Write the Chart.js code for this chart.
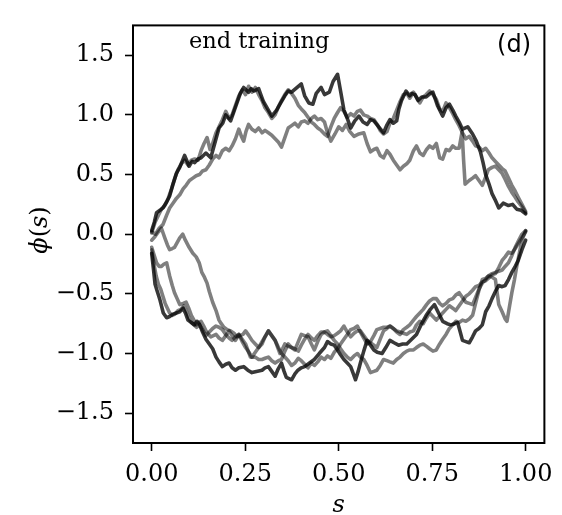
<!DOCTYPE html>
<html>
<head>
<meta charset="utf-8">
<script src="https://cdn.jsdelivr.net/npm/chart.js@4.4.1/dist/chart.umd.min.js"></script>
<style>
  html, body { margin: 0; padding: 0; background: #fff; }
  canvas { display: block; }
</style>
</head>
<body>
<canvas id="graph" width="562" height="515"></canvas>
<script>
// tick positions
var sTicks = [0, 0.25, 0.5, 0.75, 1.0];
var phiTicks = [-1.5, -1.0, -0.5, 0, 0.5, 1.0, 1.5];

// paths, [s, phi(s)]
var upper1 = [[0,0.03],[0.007,0.10],[0.013,0.18],[0.022,0.20],[0.03,0.22],[0.04,0.27],[0.048,0.32],[0.057,0.42],[0.066,0.51],[0.075,0.56],[0.088,0.66],[0.10,0.57],[0.108,0.61],[0.115,0.60],[0.124,0.63],[0.132,0.64],[0.145,0.68],[0.158,0.64],[0.165,0.72],[0.172,0.80],[0.18,0.89],[0.19,0.93],[0.198,1.0],[0.211,0.95],[0.22,1.03],[0.228,1.10],[0.237,1.18],[0.246,1.23],[0.259,1.19],[0.266,1.22],[0.273,1.20],[0.286,1.22],[0.293,1.16],[0.299,1.11],[0.31,1.05],[0.321,0.99],[0.334,1.04],[0.345,1.10],[0.356,1.16],[0.365,1.20],[0.374,1.19],[0.385,1.22],[0.40,1.26],[0.409,1.16],[0.42,1.10],[0.431,1.09],[0.44,1.18],[0.453,1.23],[0.462,1.17],[0.475,1.19],[0.485,1.28],[0.497,1.34],[0.505,1.20],[0.514,1.04],[0.523,0.97],[0.532,0.89],[0.543,0.95],[0.554,0.99],[0.565,0.94],[0.576,0.92],[0.585,0.96],[0.594,0.95],[0.607,0.90],[0.62,0.85],[0.628,0.91],[0.637,0.96],[0.646,0.93],[0.655,0.95],[0.661,1.05],[0.668,1.12],[0.68,1.20],[0.69,1.16],[0.695,1.18],[0.704,1.17],[0.712,1.12],[0.722,1.15],[0.734,1.15],[0.745,1.18],[0.752,1.19],[0.764,1.08],[0.778,0.99],[0.787,1.06],[0.796,1.09],[0.805,1.04],[0.813,0.99],[0.822,0.94],[0.831,0.88],[0.845,0.90],[0.858,0.84],[0.868,0.78],[0.879,0.69],[0.886,0.60],[0.893,0.50],[0.902,0.42],[0.91,0.34],[0.918,0.29],[0.928,0.22],[0.94,0.26],[0.954,0.24],[0.965,0.25],[0.976,0.21],[0.988,0.20],[1.0,0.17]];

var upper2 = [[0,0.01],[0.009,0.10],[0.018,0.16],[0.026,0.21],[0.035,0.24],[0.044,0.30],[0.053,0.38],[0.062,0.47],[0.07,0.54],[0.079,0.59],[0.088,0.62],[0.097,0.58],[0.106,0.62],[0.115,0.63],[0.124,0.62],[0.132,0.70],[0.14,0.76],[0.148,0.81],[0.156,0.71],[0.163,0.76],[0.172,0.85],[0.18,0.90],[0.189,0.96],[0.198,1.03],[0.207,0.97],[0.215,1.00],[0.224,1.08],[0.233,1.16],[0.242,1.21],[0.251,1.17],[0.259,1.24],[0.268,1.19],[0.277,1.23],[0.286,1.17],[0.295,1.12],[0.303,1.06],[0.312,1.02],[0.321,0.97],[0.33,1.00],[0.339,1.07],[0.347,1.12],[0.356,1.17],[0.365,1.21],[0.374,1.18],[0.383,1.14],[0.392,1.08],[0.40,1.05],[0.409,1.02],[0.418,0.98],[0.427,0.94],[0.435,0.92],[0.444,0.89],[0.453,0.87],[0.462,0.84],[0.47,0.82],[0.479,0.90],[0.488,0.97],[0.497,1.02],[0.505,1.06],[0.514,1.03],[0.523,0.98],[0.532,1.01],[0.541,0.99],[0.55,1.03],[0.558,1.04],[0.567,1.00],[0.576,0.99],[0.585,0.97],[0.594,0.96],[0.603,0.92],[0.611,0.87],[0.62,0.84],[0.629,0.86],[0.637,0.93],[0.646,0.97],[0.655,1.04],[0.664,1.11],[0.673,1.17],[0.682,1.18],[0.69,1.14],[0.70,1.19],[0.708,1.15],[0.717,1.10],[0.726,1.15],[0.734,1.17],[0.743,1.20],[0.752,1.17],[0.761,1.13],[0.77,1.05],[0.778,1.03],[0.787,1.10],[0.796,1.06],[0.805,1.01],[0.813,0.96],[0.822,0.91],[0.831,0.85],[0.84,0.80],[0.849,0.82],[0.858,0.78],[0.866,0.74],[0.875,0.73],[0.884,0.70],[0.893,0.72],[0.902,0.68],[0.91,0.64],[0.919,0.61],[0.928,0.58],[0.937,0.55],[0.945,0.53],[0.954,0.47],[0.963,0.41],[0.972,0.36],[0.98,0.31],[0.99,0.25],[1.0,0.19]];

var upper3 = [[0,0.02],[0.01,0.0],[0.02,0.05],[0.03,0.08],[0.04,0.16],[0.048,0.22],[0.057,0.26],[0.066,0.30],[0.075,0.33],[0.084,0.38],[0.092,0.41],[0.101,0.45],[0.11,0.47],[0.119,0.49],[0.128,0.50],[0.136,0.53],[0.145,0.54],[0.154,0.58],[0.163,0.63],[0.172,0.66],[0.18,0.64],[0.189,0.70],[0.198,0.72],[0.207,0.70],[0.215,0.74],[0.224,0.80],[0.233,0.88],[0.24,0.82],[0.246,0.78],[0.252,0.86],[0.259,0.92],[0.268,0.88],[0.277,0.86],[0.286,0.89],[0.295,0.85],[0.303,0.87],[0.312,0.85],[0.321,0.83],[0.33,0.80],[0.339,0.77],[0.347,0.73],[0.356,0.81],[0.365,0.89],[0.374,0.91],[0.383,0.93],[0.392,0.90],[0.40,0.94],[0.409,0.95],[0.418,0.93],[0.427,0.97],[0.435,0.99],[0.444,0.96],[0.453,0.97],[0.462,0.94],[0.47,0.85],[0.479,0.78],[0.49,0.84],[0.50,0.90],[0.51,0.87],[0.52,0.92],[0.53,0.86],[0.541,0.82],[0.554,0.84],[0.567,0.85],[0.576,0.76],[0.585,0.69],[0.594,0.71],[0.602,0.72],[0.611,0.66],[0.62,0.64],[0.629,0.70],[0.637,0.67],[0.646,0.62],[0.655,0.58],[0.664,0.54],[0.673,0.57],[0.682,0.59],[0.69,0.62],[0.70,0.70],[0.708,0.74],[0.717,0.68],[0.726,0.66],[0.735,0.71],[0.743,0.74],[0.752,0.72],[0.761,0.76],[0.77,0.64],[0.778,0.63],[0.787,0.71],[0.796,0.70],[0.805,0.74],[0.813,0.72],[0.822,0.72],[0.83,0.86],[0.834,0.62],[0.838,0.42],[0.849,0.45],[0.858,0.47],[0.866,0.49],[0.875,0.45],[0.884,0.41],[0.893,0.48],[0.90,0.54],[0.91,0.56],[0.919,0.57],[0.928,0.54],[0.937,0.51],[0.945,0.46],[0.954,0.40],[0.963,0.35],[0.972,0.31],[0.98,0.27],[0.99,0.23],[1.0,0.18]];

var lower1 = [[0,-0.16],[0.005,-0.30],[0.009,-0.42],[0.015,-0.48],[0.022,-0.55],[0.031,-0.66],[0.04,-0.70],[0.048,-0.69],[0.057,-0.67],[0.066,-0.66],[0.075,-0.65],[0.084,-0.62],[0.09,-0.66],[0.097,-0.72],[0.106,-0.74],[0.114,-0.76],[0.121,-0.73],[0.127,-0.75],[0.136,-0.82],[0.145,-0.88],[0.154,-0.92],[0.163,-0.96],[0.172,-1.03],[0.18,-1.07],[0.189,-1.11],[0.198,-1.09],[0.207,-1.08],[0.215,-1.12],[0.224,-1.14],[0.233,-1.12],[0.246,-1.11],[0.257,-1.14],[0.268,-1.16],[0.28,-1.15],[0.295,-1.14],[0.303,-1.12],[0.312,-1.11],[0.321,-1.15],[0.33,-1.19],[0.338,-1.13],[0.347,-1.08],[0.354,-1.15],[0.36,-1.20],[0.374,-1.22],[0.383,-1.17],[0.391,-1.14],[0.40,-1.12],[0.409,-1.11],[0.422,-1.08],[0.435,-1.05],[0.448,-1.00],[0.462,-0.95],[0.47,-0.90],[0.479,-0.92],[0.488,-0.93],[0.497,-0.97],[0.505,-1.01],[0.514,-1.05],[0.523,-1.08],[0.532,-1.11],[0.538,-1.16],[0.545,-1.22],[0.552,-1.15],[0.558,-1.08],[0.567,-0.98],[0.576,-0.89],[0.585,-0.93],[0.594,-0.97],[0.603,-0.99],[0.616,-1.00],[0.626,-0.95],[0.637,-0.89],[0.648,-0.91],[0.66,-0.93],[0.671,-0.92],[0.682,-0.92],[0.695,-0.88],[0.708,-0.84],[0.72,-0.76],[0.734,-0.68],[0.745,-0.63],[0.756,-0.59],[0.767,-0.66],[0.778,-0.73],[0.79,-0.75],[0.80,-0.76],[0.81,-0.75],[0.818,-0.74],[0.825,-0.82],[0.831,-0.89],[0.84,-0.90],[0.849,-0.91],[0.858,-0.86],[0.866,-0.81],[0.875,-0.79],[0.884,-0.76],[0.889,-0.70],[0.893,-0.65],[0.902,-0.60],[0.91,-0.54],[0.919,-0.48],[0.928,-0.43],[0.937,-0.44],[0.945,-0.43],[0.954,-0.38],[0.963,-0.32],[0.972,-0.27],[0.98,-0.22],[0.99,-0.13],[1.0,-0.05]];

var lower2 = [[0,-0.11],[0.006,-0.17],[0.013,-0.24],[0.02,-0.27],[0.026,-0.27],[0.033,-0.25],[0.04,-0.24],[0.048,-0.35],[0.055,-0.43],[0.061,-0.49],[0.068,-0.54],[0.075,-0.59],[0.084,-0.58],[0.092,-0.57],[0.099,-0.62],[0.106,-0.68],[0.113,-0.72],[0.119,-0.76],[0.126,-0.74],[0.132,-0.73],[0.139,-0.77],[0.145,-0.81],[0.152,-0.84],[0.158,-0.86],[0.165,-0.85],[0.172,-0.84],[0.18,-0.87],[0.189,-0.89],[0.198,-0.85],[0.207,-0.81],[0.215,-0.85],[0.224,-0.89],[0.233,-0.84],[0.242,-0.88],[0.251,-0.92],[0.258,-0.98],[0.264,-1.03],[0.277,-1.03],[0.286,-1.05],[0.295,-1.05],[0.303,-1.04],[0.312,-1.03],[0.321,-1.06],[0.33,-1.08],[0.339,-1.06],[0.347,-1.05],[0.356,-0.98],[0.365,-0.92],[0.374,-0.95],[0.383,-0.97],[0.392,-0.90],[0.40,-0.84],[0.409,-0.85],[0.418,-0.86],[0.427,-0.92],[0.435,-0.97],[0.444,-0.90],[0.453,-0.84],[0.462,-0.82],[0.47,-0.81],[0.479,-0.85],[0.488,-0.89],[0.497,-0.92],[0.505,-0.96],[0.514,-1.00],[0.523,-1.03],[0.532,-1.05],[0.541,-1.02],[0.55,-1.00],[0.558,-1.03],[0.567,-1.05],[0.576,-1.10],[0.585,-1.16],[0.594,-1.15],[0.602,-1.14],[0.611,-1.10],[0.62,-1.05],[0.629,-1.06],[0.637,-1.07],[0.646,-1.08],[0.655,-1.05],[0.664,-1.03],[0.673,-1.00],[0.682,-0.98],[0.69,-0.97],[0.70,-0.97],[0.708,-0.95],[0.717,-0.93],[0.726,-0.92],[0.735,-0.94],[0.743,-0.96],[0.752,-0.98],[0.761,-0.97],[0.77,-0.92],[0.778,-0.88],[0.787,-0.84],[0.796,-0.79],[0.805,-0.76],[0.813,-0.73],[0.822,-0.74],[0.831,-0.72],[0.84,-0.73],[0.849,-0.71],[0.858,-0.68],[0.866,-0.58],[0.875,-0.47],[0.884,-0.38],[0.893,-0.37],[0.90,-0.35],[0.91,-0.36],[0.919,-0.38],[0.924,-0.50],[0.928,-0.59],[0.937,-0.65],[0.945,-0.71],[0.95,-0.73],[0.957,-0.60],[0.963,-0.49],[0.97,-0.38],[0.976,-0.27],[0.983,-0.16],[0.99,-0.05],[1.0,0.03]];

var lower3 = [[0,-0.05],[0.009,-0.02],[0.018,0.02],[0.026,0.05],[0.035,-0.03],[0.042,-0.09],[0.048,-0.13],[0.055,-0.12],[0.061,-0.11],[0.068,-0.07],[0.075,-0.03],[0.083,0.0],[0.09,-0.05],[0.10,-0.11],[0.11,-0.16],[0.119,-0.19],[0.127,-0.24],[0.134,-0.32],[0.141,-0.36],[0.148,-0.41],[0.154,-0.48],[0.163,-0.57],[0.172,-0.64],[0.18,-0.72],[0.186,-0.75],[0.193,-0.78],[0.202,-0.80],[0.211,-0.81],[0.22,-0.83],[0.228,-0.86],[0.235,-0.85],[0.244,-0.84],[0.251,-0.81],[0.26,-0.85],[0.268,-0.89],[0.277,-0.92],[0.286,-0.95],[0.295,-0.90],[0.303,-0.86],[0.312,-0.81],[0.321,-0.85],[0.33,-0.89],[0.339,-0.95],[0.347,-1.00],[0.356,-1.03],[0.365,-1.06],[0.374,-1.10],[0.383,-1.08],[0.392,-1.04],[0.40,-1.06],[0.409,-1.09],[0.418,-1.12],[0.427,-1.08],[0.435,-1.10],[0.444,-1.07],[0.453,-1.03],[0.462,-1.05],[0.47,-1.02],[0.479,-1.04],[0.488,-0.99],[0.497,-0.96],[0.505,-0.92],[0.514,-0.88],[0.523,-0.84],[0.532,-0.80],[0.541,-0.79],[0.55,-0.77],[0.558,-0.82],[0.567,-0.87],[0.576,-0.92],[0.585,-0.90],[0.594,-0.85],[0.602,-0.80],[0.611,-0.79],[0.62,-0.78],[0.629,-0.78],[0.637,-0.77],[0.646,-0.79],[0.655,-0.82],[0.664,-0.84],[0.673,-0.80],[0.682,-0.78],[0.69,-0.76],[0.70,-0.72],[0.708,-0.69],[0.717,-0.66],[0.726,-0.63],[0.735,-0.59],[0.743,-0.56],[0.752,-0.54],[0.761,-0.54],[0.77,-0.58],[0.778,-0.60],[0.787,-0.58],[0.796,-0.55],[0.805,-0.54],[0.813,-0.51],[0.822,-0.49],[0.831,-0.53],[0.84,-0.57],[0.849,-0.58],[0.858,-0.59],[0.866,-0.53],[0.875,-0.46],[0.884,-0.41],[0.893,-0.38],[0.90,-0.35],[0.91,-0.33],[0.919,-0.32],[0.928,-0.31],[0.937,-0.30],[0.945,-0.27],[0.954,-0.24],[0.963,-0.18],[0.972,-0.11],[0.98,-0.06],[0.99,0.0],[1.0,0.03]];

var lower4 = [[0,-0.13],[0.006,-0.25],[0.012,-0.35],[0.018,-0.42],[0.024,-0.46],[0.03,-0.52],[0.036,-0.58],[0.042,-0.62],[0.048,-0.66],[0.055,-0.68],[0.062,-0.67],[0.07,-0.64],[0.078,-0.63],[0.086,-0.60],[0.092,-0.64],[0.099,-0.70],[0.106,-0.74],[0.113,-0.76],[0.12,-0.78],[0.128,-0.76],[0.136,-0.80],[0.145,-0.85],[0.154,-0.82],[0.163,-0.79],[0.172,-0.77],[0.18,-0.78],[0.189,-0.80],[0.198,-0.84],[0.207,-0.87],[0.215,-0.89],[0.224,-0.86],[0.233,-0.84],[0.242,-0.90],[0.251,-0.95],[0.26,-0.99],[0.268,-1.03],[0.277,-0.99],[0.286,-0.95],[0.295,-0.92],[0.303,-0.86],[0.312,-0.81],[0.321,-0.85],[0.33,-0.89],[0.337,-0.95],[0.343,-1.00],[0.35,-0.96],[0.356,-0.92],[0.365,-0.94],[0.374,-0.95],[0.383,-0.96],[0.392,-0.98],[0.40,-0.93],[0.409,-0.88],[0.418,-0.84],[0.427,-0.87],[0.435,-0.89],[0.444,-0.85],[0.453,-0.82],[0.462,-0.82],[0.47,-0.84],[0.479,-0.86],[0.488,-0.85],[0.497,-0.83],[0.505,-0.81],[0.514,-0.77],[0.523,-0.82],[0.532,-0.86],[0.541,-0.83],[0.55,-0.81],[0.558,-0.81],[0.567,-0.85],[0.576,-0.89],[0.585,-0.91],[0.594,-0.93],[0.602,-0.95],[0.611,-0.88],[0.62,-0.81],[0.629,-0.79],[0.637,-0.77],[0.646,-0.79],[0.655,-0.81],[0.664,-0.82],[0.673,-0.83],[0.682,-0.84],[0.69,-0.82],[0.70,-0.81],[0.708,-0.76],[0.717,-0.73],[0.726,-0.75],[0.735,-0.70],[0.743,-0.66],[0.752,-0.69],[0.761,-0.72],[0.77,-0.69],[0.778,-0.66],[0.787,-0.63],[0.796,-0.60],[0.805,-0.62],[0.813,-0.64],[0.822,-0.60],[0.831,-0.56],[0.84,-0.52],[0.849,-0.50],[0.858,-0.47],[0.866,-0.44],[0.875,-0.43],[0.884,-0.40],[0.893,-0.39],[0.90,-0.37],[0.91,-0.34],[0.919,-0.33],[0.928,-0.28],[0.937,-0.22],[0.945,-0.19],[0.954,-0.15],[0.963,-0.16],[0.972,-0.12],[0.98,-0.08],[0.99,-0.03],[1.0,0.02]];

var serif = '"DejaVu Serif", serif';
var dark = 'rgba(0, 0, 0, 0.78)';
var grey = 'rgba(0, 0, 0, 0.5)';

function path(points, colour) {
  return {
    data: points.map(function (p) { return {x: p[0], y: p[1]}; }),
    borderColor: colour,
    borderWidth: 3.6,
    borderJoinStyle: 'round',
    borderCapStyle: 'round',
    pointRadius: 0,
    showLine: true,
    fill: false,
    tension: 0
  };
}

// write pieces of text with their own style, centred on (cx, cy)
function richText(ctx, parts, cx, cy) {
  var total = 0;
  parts.forEach(function (p) { ctx.font = p[1]; total += ctx.measureText(p[0]).width; });
  var x = cx - total / 2;
  ctx.textAlign = 'left';
  ctx.textBaseline = 'middle';
  parts.forEach(function (p) {
    ctx.font = p[1];
    ctx.fillText(p[0], x, cy);
    x += ctx.measureText(p[0]).width;
  });
}

// frame, axis titles, labels
var extras = {
  id: 'extras',
  afterDraw: function (chart) {
    var ctx = chart.ctx, a = chart.chartArea;
    var it = 'italic 24px ' + serif, up = '24px ' + serif;
    ctx.save();
    ctx.strokeStyle = '#000';
    ctx.lineWidth = 2;
    ctx.strokeRect(a.left, a.top, a.right - a.left, a.bottom - a.top);
    ctx.fillStyle = '#000';

    richText(ctx, [['s', it]], (a.left + a.right) / 2, 506);

    ctx.save();
    ctx.translate(41, 230);
    ctx.rotate(-Math.PI / 2);
    richText(ctx, [['\u03D5', it], ['(', up], ['s', it], [')', up]], 0, 0);
    ctx.restore();

    ctx.font = '22.5px ' + serif;
    ctx.textAlign = 'left';
    ctx.textBaseline = 'alphabetic';
    ctx.fillText('end training', 189, 48);
    ctx.font = '24px "DejaVu Sans", sans-serif';
    ctx.textAlign = 'right';
    ctx.textBaseline = 'middle';
    ctx.fillText('(d)', 531, 46);
    ctx.restore();
  }
};

var tickGrid = {
  display: true,
  drawOnChartArea: false,
  drawTicks: true,
  tickLength: 8,
  tickColor: '#000',
  tickWidth: 1.6
};

var config = {
  type: 'scatter',
  data: {
    datasets: [
      path(upper3, grey), path(upper2, grey), path(upper1, dark),
      path(lower3, grey), path(lower4, grey), path(lower2, grey), path(lower1, dark)
    ]
  },
  options: {
    responsive: false,
    animation: false,
    devicePixelRatio: 1,
    layout: { padding: { left: 0, right: 13, top: 10, bottom: 0 } },
    plugins: { legend: { display: false }, tooltip: { enabled: false } },
    scales: {
      x: {
        type: 'linear',
        min: -0.05,
        max: 1.05,
        afterBuildTicks: function (axis) { axis.ticks = sTicks.map(function (v) { return {value: v}; }); },
        afterFit: function (axis) { axis.height = 72; },
        ticks: {
          callback: function (v) { return v.toFixed(2); },
          font: { family: serif, size: 24 },
          color: '#000',
          padding: 9,
          maxRotation: 0,
          autoSkip: false
        },
        grid: tickGrid,
        border: { display: false }
      },
      y: {
        type: 'linear',
        min: -1.75,
        max: 1.75,
        afterBuildTicks: function (axis) { axis.ticks = phiTicks.map(function (v) { return {value: v}; }); },
        afterFit: function (axis) { axis.width = 133; },
        ticks: {
          callback: function (v) { return (v < 0 ? '\u2212' : '') + Math.abs(v).toFixed(1); },
          font: { family: serif, size: 24 },
          color: '#000',
          padding: 11,
          autoSkip: false
        },
        grid: tickGrid,
        border: { display: false }
      }
    }
  },
  plugins: [extras]
};

var graph = new Chart(document.getElementById('graph'), config);
</script>
</body>
</html>
